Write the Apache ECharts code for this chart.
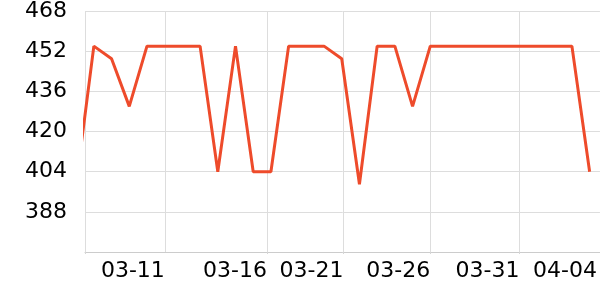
<!DOCTYPE html>
<html>
<head>
<meta charset="utf-8">
<script src="https://cdn.jsdelivr.net/npm/echarts@6/dist/echarts.min.js"></script>
<style>html,body{margin:0;padding:0;background:#fff}#c{width:600px;height:300px}</style>
</head>
<body>
<div id="c"></div>
<script>
// Daily dates (first one lies just left of the visible window)
var dates = ['2024-03-06','2024-03-07','2024-03-08','2024-03-09','2024-03-10','2024-03-11','2024-03-12',
  '2024-03-13','2024-03-14','2024-03-15','2024-03-16','2024-03-17','2024-03-18','2024-03-19',
  '2024-03-20','2024-03-21','2024-03-22','2024-03-23','2024-03-24','2024-03-25','2024-03-26',
  '2024-03-27','2024-03-28','2024-03-29','2024-03-30','2024-03-31','2024-04-01','2024-04-02',
  '2024-04-03','2024-04-04'];
var values = [399, 454, 449, 430, 454, 454, 454, 454, 404, 454, 404, 404, 454, 454, 454, 449,
  399, 454, 454, 430, 454, 454, 454, 454, 454, 454, 454, 454, 454, 404];
// x-axis window, grid ticks and labelled ticks
var xMin = '2024-03-06 12:00';
var xMax = '2024-04-04 14:00';
var xGridTicks = ['2024-03-06 12:00','2024-03-11 00:15','2024-03-16 18:40','2024-03-21 02:25',
  '2024-03-26 00:00','2024-03-31 01:00'];
var xLabelTicks = ['2024-03-11 00:15','2024-03-16 18:40','2024-03-21 02:25',
  '2024-03-26 00:00','2024-03-31 01:00','2024-04-04 10:00'];
// y-axis
var yMin = 372, yMax = 468, yStep = 16;

function ts(s){ return new Date(s.replace(' ', 'T')).getTime(); }

var chart = echarts.init(document.getElementById('c'), null, {renderer: 'canvas'});
chart.setOption({
  animation: false,
  grid: {left: 85, right: -3, top: 10, bottom: 48, containLabel: false},
  xAxis: {
    type: 'time',
    min: ts(xMin),
    max: ts(xMax),
    axisLine: {show: true, lineStyle: {color: '#cccccc', width: 1}},
    axisTick: {show: true, length: 2, lineStyle: {color: '#d6d6d6'}, customValues: xGridTicks.map(ts)},
    splitLine: {show: true, lineStyle: {color: '#dddddd', width: 1}},
    axisLabel: {
      customValues: xLabelTicks.map(ts),
      align: 'right',
      margin: 8,
      color: '#000',
      fontSize: 22,
      fontFamily: 'DejaVu Sans',
      formatter: '{MM}-{dd}',
      showMinLabel: true,
      showMaxLabel: true,
      hideOverlap: false
    }
  },
  yAxis: {
    type: 'value',
    min: yMin,
    max: yMax,
    interval: yStep,
    axisLine: {show: false},
    axisTick: {show: false},
    splitLine: {show: true, lineStyle: {color: '#dddddd', width: 1}},
    axisLabel: {
      showMinLabel: false,
      color: '#000',
      fontSize: 22,
      fontFamily: 'DejaVu Sans',
      margin: 18
    }
  },
  series: [{
    type: 'line',
    data: dates.map(function(d, i){ return [ts(d), values[i]]; }),
    showSymbol: false,
    symbol: 'none',
    clip: true,
    lineStyle: {color: '#ee4b2b', width: 3},
    itemStyle: {color: '#ee4b2b'}
  }]
});
</script>
</body>
</html>
